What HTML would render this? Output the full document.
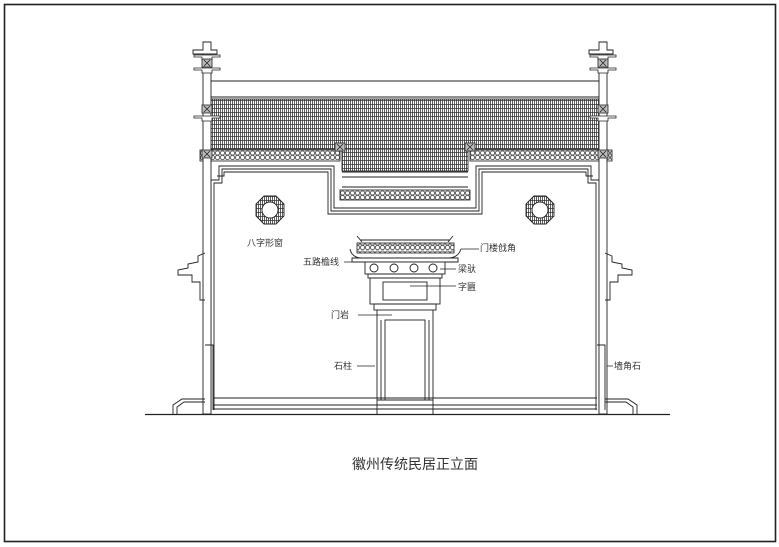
<!DOCTYPE html>
<html><head><meta charset="utf-8"><style>
html,body{margin:0;padding:0;background:#fff;}
svg{display:block;}
text{font-family:"Liberation Sans","Noto Sans CJK SC",sans-serif;fill:#333;}
</style></head><body>
<svg width="779" height="547" viewBox="0 0 779 547" xmlns="http://www.w3.org/2000/svg">
<defs>
<pattern id="tile" width="4" height="4" patternUnits="userSpaceOnUse">
<rect width="4" height="4" fill="#fff"/>
<path d="M0 0.5H4M0.5 0V4M2.5 0V4" stroke="#333" stroke-width="0.8"/>
</pattern>
<pattern id="eave" width="5" height="10" patternUnits="userSpaceOnUse">
<rect width="5" height="10" fill="#fff"/>
<rect x="0.6" y="1" width="3.8" height="4" rx="1.5" fill="none" stroke="#444" stroke-width="0.8"/>
<rect x="0.6" y="5.5" width="3.8" height="4" rx="1.5" fill="none" stroke="#444" stroke-width="0.8"/>
</pattern>
<g id="xbox"><rect x="-5" y="-4" width="10" height="8" fill="#bbb" stroke="#222" stroke-width="0.8"/><path d="M-3-3L3 3M3-3L-3 3" stroke="#222" stroke-width="0.8"/></g>
<g id="flare"><path d="M-13 0H13V2H5V5H-5V2H-13Z" fill="#fff" stroke="#222" stroke-width="0.8"/></g>
</defs>
<rect x="4.5" y="4.5" width="771" height="537" fill="none" stroke="#222" stroke-width="1.6"/>

<g fill="none" stroke="#222" stroke-width="0.9">
<path d="M211 81H599M211 97H599"/>
<rect x="211" y="99" width="388" height="50" fill="url(#tile)" stroke="#333"/>
<rect x="342" y="149" width="126" height="22" fill="url(#tile)" stroke="#333"/>
<path d="M342 172H468M342 177H468M342 187H468"/>
<rect x="340" y="190" width="130" height="10" fill="url(#eave)" stroke="#333"/>
<rect x="200" y="150" width="140" height="11" fill="url(#eave)" stroke="#333"/>
<rect x="470" y="150" width="142" height="11" fill="url(#eave)" stroke="#333"/>
<path d="M211 410V180H219V166H334V208H476V166H591V180H599V410"/>
<path d="M214 410V183H222V169H331V211H479V169H588V183H596V410"/>
<path d="M217 176H224V172H328V214H482V172H586V176H593"/>
<rect x="203" y="52" width="8" height="362" fill="#fff"/>
<rect x="599" y="52" width="8" height="362" fill="#fff"/>
<path d="M203 42H211V50H217V54H193V50H203Z" fill="#fff"/>
<path d="M599 42H607V50H613V54H589V50H599Z" fill="#fff"/>
<path d="M205 345H213V410M597 345H605V410"/>
<path d="M213 398H597M213 405H597M213 409H597"/>
<path d="M173 414V405L182 399H205M637 414V405L628 399H605"/>
<path d="M177 414V407L184 402H205M633 414V407L626 402H605"/>
<path d="M145 414.5H670" stroke-width="1.3"/>
<path d="M205 253L198 256V262L188 264V268L178 270V275H192V282H200V300H205"/>
<path d="M605 253L612 256V262L622 264V268L632 270V275H618V282H610V300H605"/>
<polygon points="264,196 276,196 284,204 284,216 276,224 264,224 256,216 256,204" fill="url(#tile)"/>
<circle cx="270" cy="210" r="8" fill="#fff"/>
<polygon points="534,196 546,196 554,204 554,216 546,224 534,224 526,216 526,204" fill="url(#tile)"/>
<circle cx="540" cy="210" r="8" fill="#fff"/>
<path d="M360 240H450M357 236L362 242M453 236L448 242"/>
<rect x="357" y="243" width="97" height="10" fill="url(#eave)" stroke="#333"/>
<path d="M350 249Q352 258 362 258H448Q458 258 461 249" />
<path d="M352 258H458V262H352Z"/>
<rect x="365" y="262" width="80" height="12" fill="#fff"/>
<circle cx="374" cy="268" r="4"/><circle cx="394" cy="268" r="4"/><circle cx="414" cy="268" r="4"/><circle cx="433" cy="268" r="4"/>
<rect x="368" y="274" width="74" height="4"/>
<rect x="370" y="278" width="70" height="26"/>
<rect x="383" y="282" width="44" height="18"/>
<rect x="374" y="304" width="62" height="6"/>
<path d="M377 310V414M433 310V414"/>
<rect x="385" y="320" width="40" height="80"/>
<path d="M381 320V400M429 320V400M377 400H433M377 405H433"/>
<path d="M461 249H479M344 262H360M440 269H456M410 286H456M358 315H392M357 366H375M607 366H613" stroke-width="0.7"/>
</g>
<use href="#flare" x="207" y="55"/><use href="#xbox" x="207" y="63"/><use href="#flare" x="207" y="68"/>
<use href="#flare" x="603" y="55"/><use href="#xbox" x="603" y="63"/><use href="#flare" x="603" y="68"/>
<use href="#xbox" x="207" y="109"/><use href="#flare" x="207" y="116"/>
<use href="#xbox" x="603" y="109"/><use href="#flare" x="603" y="116"/>
<use href="#xbox" x="207" y="154"/><use href="#xbox" x="603" y="154"/>
<use href="#xbox" x="340" y="147"/><use href="#xbox" x="470" y="147"/>

<g font-size="9">
<text x="247" y="246">八字形窗</text>
<text x="480" y="251">门楼戗角</text>
<text x="303" y="265">五路檐线</text>
<text x="458" y="272">梁驮</text>
<text x="458" y="290">字匾</text>
<text x="331" y="318">门岩</text>
<text x="334" y="369">石柱</text>
<text x="614" y="369">墙角石</text>
</g>
<text x="352" y="469" font-size="14">徽州传统民居正立面</text>
</svg>
</body></html>
